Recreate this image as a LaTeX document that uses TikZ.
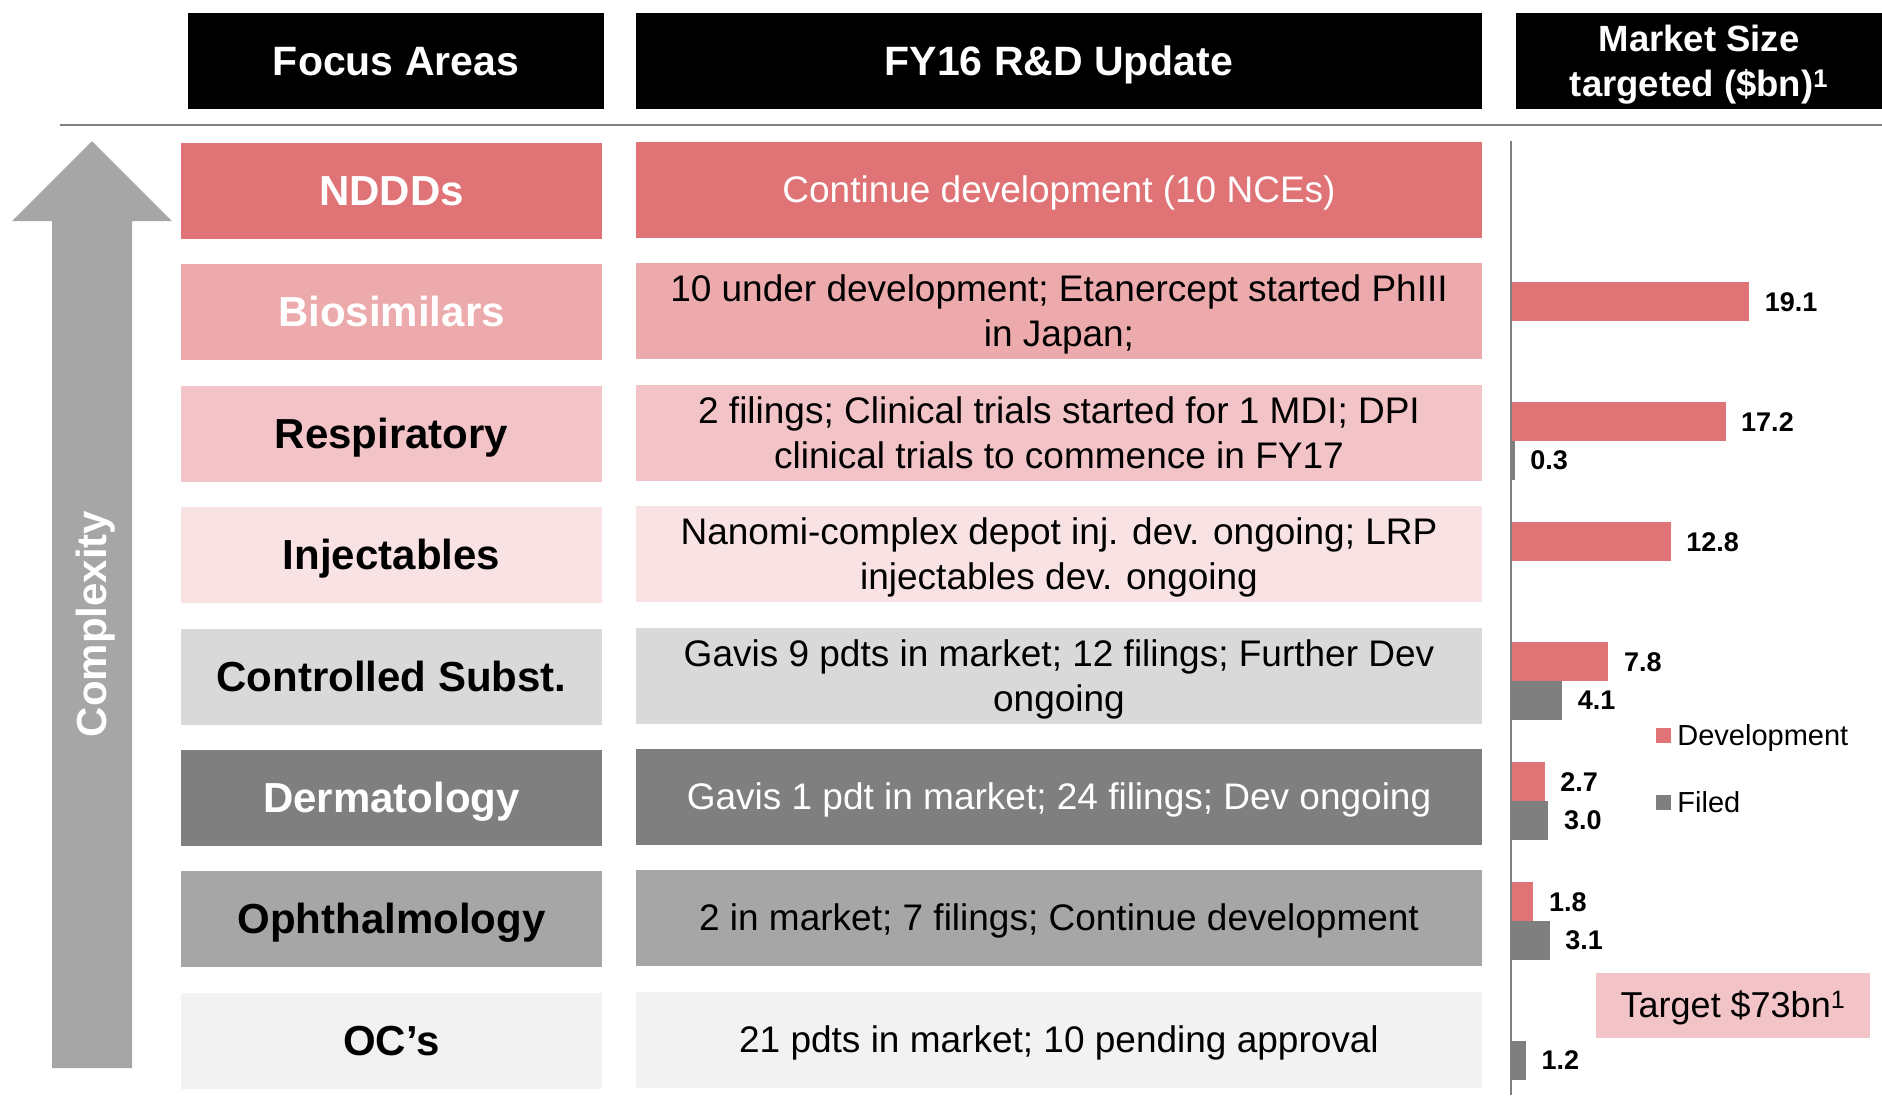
\documentclass[tikz,border=0pt]{standalone}
\usepackage{fontspec}
\setmainfont{Liberation Sans}
\usepackage{tikz}
\usetikzlibrary{positioning}

\definecolor{ndddred}{RGB}{224,115,118}
\definecolor{biopink}{RGB}{237,170,172}
\definecolor{resppink}{RGB}{243,196,199}
\definecolor{injpink}{RGB}{249,226,228}
\definecolor{ctrlgray}{RGB}{217,217,217}
\definecolor{dermgray}{RGB}{127,127,127}
\definecolor{ophgray}{RGB}{166,166,166}
\definecolor{ocgray}{RGB}{242,242,242}
\definecolor{rulegray}{RGB}{128,128,128}

\newcommand{\ppstrut}{\rule[-0.212em]{0pt}{1.117em}}
\newcommand{\headfont}{\fontsize{41}{45}\selectfont\bfseries}
\newcommand{\mktfont}{\fontsize{36.5}{45}\selectfont\bfseries}
\newcommand{\areafont}{\fontsize{42}{50}\selectfont\bfseries}
\newcommand{\updfont}{\fontsize{37}{45}\selectfont}
\newcommand{\valfont}{\fontsize{27}{32}\selectfont\bfseries}
\newcommand{\legfont}{\fontsize{29}{35}\selectfont}
\newcommand{\tgtfont}{\fontsize{36}{43}\selectfont}

\begin{document}
\begin{tikzpicture}[%
      x=1pt, y=-1pt,
      txt/.style={inner sep=0pt, execute at begin node=\ppstrut, execute at end node=\ppstrut},
      header/.style={txt, fill=black, text=white, align=center, minimum height=96pt, font=\headfont},
      area/.style={txt, minimum width=421pt, minimum height=96pt, font=\areafont},
      update/.style={txt, minimum width=846pt, minimum height=96pt, align=center, font=\updfont},
      devbar/.style={fill=ndddred, anchor=north west, inner sep=0pt, outer sep=0pt, minimum height=38.8pt},
      filbar/.style={fill=dermgray, anchor=north west, inner sep=0pt, outer sep=0pt, minimum height=38.8pt},
      barval/.style={inner sep=0pt, text height=19.3pt, text depth=0pt, font=\valfont},
      legsq/.style={inner sep=0pt, minimum size=15pt},
      legtxt/.style={inner sep=0pt, text height=20.8pt, text depth=0pt, font=\legfont},
      ]
      \useasboundingbox (0,0) rectangle (1882,1095);

      \node[header, minimum width=416pt] (focushd) at (396,61) {Focus Areas};
      \node[header, minimum width=846pt] (updhd) at (1059,61) {FY16 R\&D Update};
      \node[header, minimum width=366pt, font=\mktfont] (mkthd) at (1699,61) {\ppstrut Market Size\\targeted (\$bn)\textsuperscript{1}};

      \draw[rulegray, line width=2pt] (60,124.7) -- (1882,124.7);

      \fill[ophgray] (92,141) -- (172,221) -- (132,221) -- (132,1068) -- (52,1068) -- (52,221) -- (12,221) -- cycle;
      \node[txt, rotate=90, text=white, font=\areafont] (cplx) at (92,624) {Complexity};

      \node[area, fill=ndddred, text=white] (nddd) at (391.5,191) {NDDDs};
      \node[area, fill=biopink, text=white] (bios) at (391.5,312) {Biosimilars};
      \node[area, fill=resppink] (resp) at (391.5,434) {Respiratory};
      \node[area, fill=injpink] (inj) at (391.5,555) {Injectables};
      \node[area, fill=ctrlgray] (ctrl) at (391.5,677) {Controlled Subst.};
      \node[area, fill=dermgray, text=white] (derm) at (391.5,798) {Dermatology};
      \node[area, fill=ophgray] (oph) at (391.5,919) {Ophthalmology};
      \node[area, fill=ocgray] (ocs) at (391.5,1041) {OC’s};

      \node[update, fill=ndddred, text=white] (ndddupd) at (1059,190) {Continue development (10 NCEs)};
      \node[update, fill=biopink] (biosupd) at (1059,311) {\ppstrut 10 under development; Etanercept started PhIII\\in Japan;};
      \node[update, fill=resppink] (respupd) at (1059,433) {\ppstrut 2 filings; Clinical trials started for 1 MDI; DPI\\clinical trials to commence in FY17};
      \node[update, fill=injpink] (injupd) at (1059,554) {\ppstrut Nanomi-complex depot inj. dev. ongoing; LRP\\injectables dev. ongoing};
      \node[update, fill=ctrlgray] (ctrlupd) at (1059,676) {\ppstrut Gavis 9 pdts in market; 12 filings; Further Dev\\ongoing};
      \node[update, fill=dermgray, text=white] (dermupd) at (1059,797) {Gavis 1 pdt in market; 24 filings; Dev ongoing};
      \node[update, fill=ophgray] (ophupd) at (1059,918) {2 in market; 7 filings; Continue development};
      \node[update, fill=ocgray] (ocsupd) at (1059,1040) {21 pdts in market; 10 pending approval};

      \node[devbar, minimum width=238.2pt] (biosdev) at (1511,282) {};
      \node[barval, right=15.5pt of biosdev] (biosdevval) {19.1};
      \node[devbar, minimum width=214.5pt] (respdev) at (1511,402) {};
      \node[barval, right=15.5pt of respdev] (respdevval) {17.2};
      \node[filbar, minimum width=3.7pt] (respfil) at (1511,440.8) {};
      \node[barval, right=15.5pt of respfil] (respfilval) {0.3};
      \node[devbar, minimum width=159.6pt] (injdev) at (1511,522) {};
      \node[barval, right=15.5pt of injdev] (injdevval) {12.8};
      \node[devbar, minimum width=97.3pt] (ctrldev) at (1511,642) {};
      \node[barval, right=15.5pt of ctrldev] (ctrldevval) {7.8};
      \node[filbar, minimum width=51.1pt] (ctrlfil) at (1511,680.8) {};
      \node[barval, right=15.5pt of ctrlfil] (ctrlfilval) {4.1};
      \node[devbar, minimum width=33.7pt] (dermdev) at (1511,762) {};
      \node[barval, right=15.5pt of dermdev] (dermdevval) {2.7};
      \node[filbar, minimum width=37.4pt] (dermfil) at (1511,800.8) {};
      \node[barval, right=15.5pt of dermfil] (dermfilval) {3.0};
      \node[devbar, minimum width=22.4pt] (ophdev) at (1511,882) {};
      \node[barval, right=15.5pt of ophdev] (ophdevval) {1.8};
      \node[filbar, minimum width=38.7pt] (ophfil) at (1511,920.8) {};
      \node[barval, right=15.5pt of ophfil] (ophfilval) {3.1};
      \node[filbar, minimum width=15pt] (ocsfil) at (1511,1040.8) {};
      \node[barval, right=15.5pt of ocsfil] (ocsfilval) {1.2};

      \draw[rulegray, line width=2pt] (1511,141) -- (1511,1095);

      \node[legsq, fill=ndddred] (legdev) at (1663.5,735.5) {};
      \node[legtxt, right=6pt of legdev] (legdevtxt) {Development};
      \node[legsq, fill=dermgray] (legfil) at (1663.5,802.5) {};
      \node[legtxt, right=6pt of legfil] (legfiltxt) {Filed};

      \node[txt, fill=resppink, minimum width=274pt, minimum height=65pt, font=\tgtfont] (target) at (1733,1005.5) {Target \$73bn\textsuperscript{1}};
      \end{tikzpicture}
\end{document}
